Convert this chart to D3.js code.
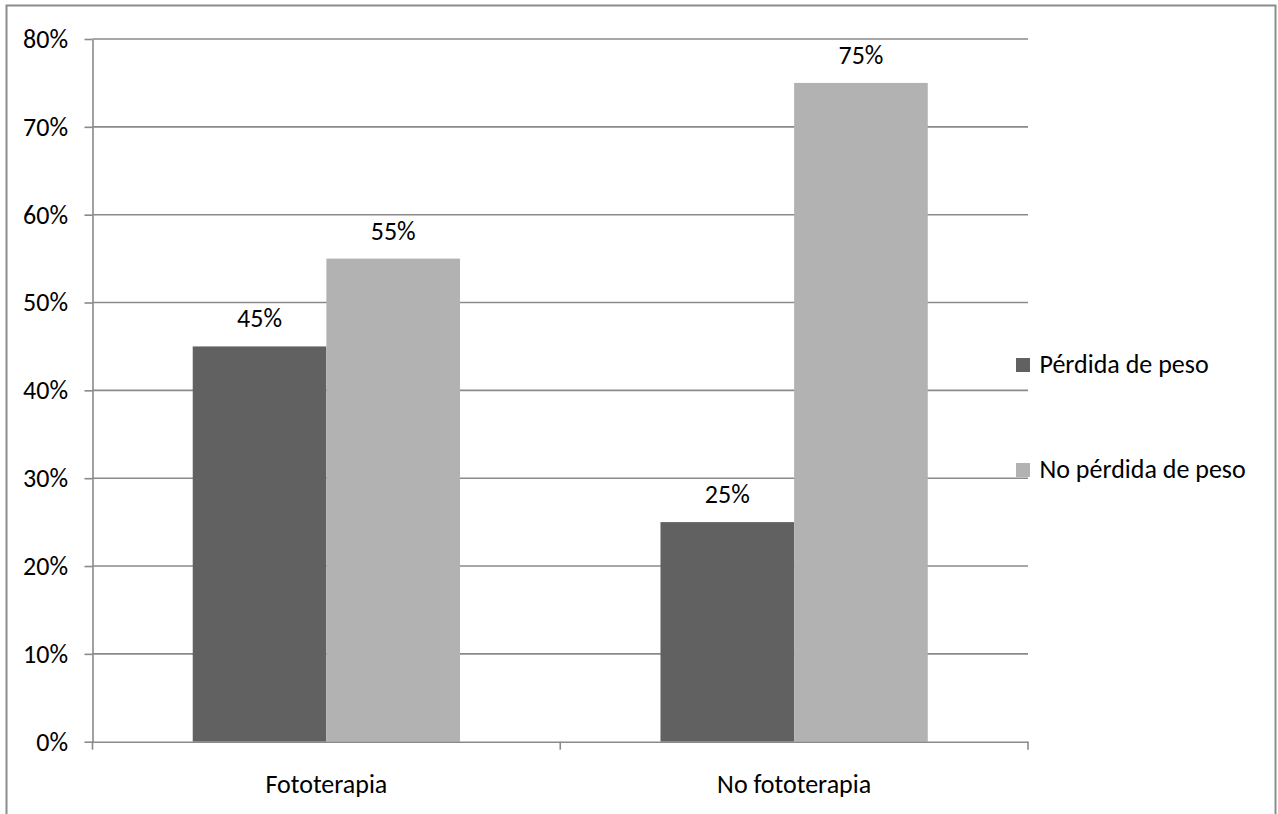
<!DOCTYPE html>
<html>
<head>
<meta charset="utf-8">
<script src="https://cdn.jsdelivr.net/npm/d3@7"></script>
<style>
  html, body { margin: 0; padding: 0; background: #fff; }
  svg { display: block; }
  text { font-family: Carlito, Calibri, "Open Sans", sans-serif; fill: #000; }
</style>
</head>
<body>
<svg id="chart" width="1278" height="814"></svg>
<script>
// Categories, series and axis ticks
const categories = ["Fototerapia", "No fototerapia"];
const seriesNames = ["Pérdida de peso", "No pérdida de peso"];
const perdidaPeso = [45, 25];
const noPerdidaPeso = [55, 75];
const yTicks = [0, 10, 20, 30, 40, 50, 60, 70, 80];
const seriesColors = ["#616161", "#b2b2b2"];

const series = [perdidaPeso, noPerdidaPeso];

const svg = d3.select("#chart");
const gridColor = "#8a8a8a";
const fontSize = 26;

// Outer frame of the chart area (bottom edge runs past the page)
svg.append("rect")
  .attr("x", 6.5).attr("y", 5.5)
  .attr("width", 1269).attr("height", 830)
  .attr("fill", "none").attr("stroke", "#8c8c8c").attr("stroke-width", 2);

const plot = { left: 92.5, right: 1028, top: 39, bottom: 741.7 };

const y = d3.scaleLinear().domain([0, 80]).range([plot.bottom, plot.top]);
const x0 = d3.scaleBand().domain(categories).range([plot.left, plot.right])
  .paddingInner(0).paddingOuter(0);
const x1 = d3.scaleBand().domain(d3.range(series.length)).range([0, x0.bandwidth()])
  .paddingInner(0).paddingOuter(0.75);

// Horizontal gridlines
svg.append("g").selectAll("line")
  .data(yTicks.filter(d => d > 0))
  .join("line")
  .attr("x1", plot.left).attr("x2", plot.right)
  .attr("y1", d => y(d)).attr("y2", d => y(d))
  .attr("stroke", gridColor).attr("stroke-width", 1.6);

// Bars
const groups = svg.append("g").selectAll("g")
  .data(categories)
  .join("g")
  .attr("transform", d => `translate(${x0(d)},0)`);

groups.selectAll("rect")
  .data((c, ci) => series.map((s, si) => ({ si, v: s[ci] })))
  .join("rect")
  .attr("x", d => x1(d.si))
  .attr("width", x1.bandwidth())
  .attr("y", d => y(d.v))
  .attr("height", d => y(0) - y(d.v))
  .attr("fill", d => seriesColors[d.si]);

// Value labels above bars
groups.selectAll("text.value")
  .data((c, ci) => series.map((s, si) => ({ si, v: s[ci] })))
  .join("text")
  .attr("class", "value")
  .attr("x", d => x1(d.si) + x1.bandwidth() / 2)
  .attr("y", d => y(d.v) - 19)
  .attr("text-anchor", "middle")
  .style("font-size", fontSize + "px")
  .text(d => d.v + "%");

// Y axis
const yAxis = svg.append("g")
  .attr("transform", `translate(${plot.left},0)`)
  .call(d3.axisLeft(y).tickValues(yTicks).tickFormat(d => d + "%").tickSize(8).tickSizeOuter(0));
yAxis.select(".domain").attr("stroke", gridColor).attr("stroke-width", 1.6);
yAxis.selectAll(".tick line").attr("stroke", gridColor).attr("stroke-width", 1.6);
yAxis.selectAll(".tick text")
  .attr("x", -24.5).attr("dy", "0.32em")
  .style("font-size", fontSize + "px").style("font-family", null).attr("fill", "#000");

// X axis with category labels and tick marks at band edges
const xAxis = svg.append("g")
  .attr("transform", `translate(0,${plot.bottom})`)
  .call(d3.axisBottom(x0).tickSize(0).tickSizeOuter(0));
xAxis.select(".domain").attr("stroke", gridColor).attr("stroke-width", 1.6);
xAxis.selectAll(".tick text")
  .attr("y", 51).attr("dy", 0)
  .style("font-size", fontSize + "px").style("font-family", null).attr("fill", "#000");

const edges = categories.map(c => x0(c)).concat([x0(categories[categories.length - 1]) + x0.bandwidth()]);
xAxis.append("g").selectAll("line")
  .data(edges)
  .join("line")
  .attr("x1", d => d).attr("x2", d => d)
  .attr("y1", 0).attr("y2", 8)
  .attr("stroke", gridColor).attr("stroke-width", 1.6);

// Legend
const legend = svg.append("g");
const legendY = [358, 463];
seriesNames.forEach((name, i) => {
  legend.append("rect")
    .attr("x", 1016).attr("y", legendY[i])
    .attr("width", 14).attr("height", 14)
    .attr("fill", seriesColors[i]);
  legend.append("text")
    .attr("x", 1039.5).attr("y", legendY[i] + 15)
    .style("font-size", fontSize + "px")
    .text(name);
});
</script>
</body>
</html>
